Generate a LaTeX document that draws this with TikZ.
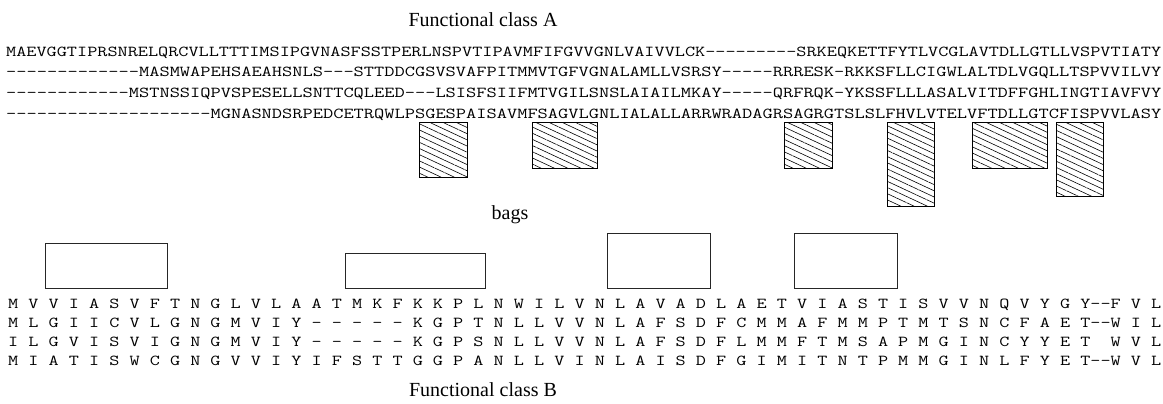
\documentclass[tikz,border=0pt]{standalone}
\usepackage{fontspec}
\setmainfont{Liberation Serif}
\usepackage{graphicx}
\usetikzlibrary{patterns.meta}
\newcommand\rep[1]{\ifnum#1>0 \mbox{-}\expandafter\rep\expandafter{\the\numexpr#1-1\relax}\fi}
\newcommand\seqline[2]{\resizebox{#1}{\height}{\fontsize{15.2}{16}\ttfamily #2}}
\tikzset{
  lab/.style={inner sep=0pt, font=\fontsize{20}{24}\selectfont},
  seq/.style={inner sep=0pt, anchor=base west},
  hatchbox/.style={draw=black, line width=0.9pt, pattern={Lines[angle=-25,distance=5.6pt,line width=0.6pt]}},
  bagbox/.style={draw=black!85, line width=0.8pt},
}
\begin{document}
\begin{tikzpicture}[x=1pt,y=-1pt]
\useasboundingbox (0,0) rectangle (1163,404);
\node[lab] (titleA) at (483,20) {Functional class A};
\node[seq] (a1) at (6,56.5) {\seqline{1155pt}{MAEVGGTIPRSNRELQRCVLLTTTIMSIPGVNASFSSTPERLNSPVTIPAVMFIFGVVGNLVAIVVLCK\rep{9}SRKEQKETTFYTLVCGLAVTDLLGTLLVSPVTIATY}};
\node[seq] (a2) at (6,77) {\seqline{1155pt}{\rep{13}MASMWAPEHSAEAHSNLS\rep{3}STTDDCGSVSVAFPITMMVTGFVGNALAMLLVSRSY\rep{5}RRRESK-RKKSFLLCIGWLALTDLVGQLLTSPVVILVY}};
\node[seq] (a3) at (6,97.5) {\seqline{1155pt}{\rep{12}MSTNSSIQPVSPESELLSNTTCQLEED\rep{3}LSISFSIIFMTVGILSNSLAIAILMKAY\rep{5}QRFRQK-YKSSFLLLASALVITDFFGHLINGTIAVFVY}};
\node[seq] (a4) at (6,118) {\seqline{1155pt}{\rep{20}MGNASNDSRPEDCETRQWLPSGESPAISAVMFSAGVLGNLIALALLARRWRADAGRSAGRGTSLSLFHVLVTELVFTDLLGTCFISPVVLASY}};
% hatched regions
\draw[hatchbox] (419,122) rectangle (467,177);
\draw[hatchbox] (532,122) rectangle (597,168);
\draw[hatchbox] (784,122) rectangle (832,168);
\draw[hatchbox] (887,122) rectangle (934,206);
\draw[hatchbox] (972,122) rectangle (1047,168);
\draw[hatchbox] (1056,122) rectangle (1103,196);
\node[lab] (bags) at (510,215) {bags};
% bag boxes
\draw[bagbox] (45,243) rectangle (167,288);
\draw[bagbox] (345,253) rectangle (485,288);
\draw[bagbox] (607,233) rectangle (710,288);
\draw[bagbox] (794,233) rectangle (897,288);
\node[seq] (b1) at (8,308) {\seqline{1153pt}{M V V I A S V F T N G L V L A A T M K F K K P L N W I L V N L A V A D L A E T V I A S T I S V V N Q V Y G Y\rep{2}F V L}};
\node[seq] (b2) at (8,327) {\seqline{1153pt}{M L G I I C V L G N G M V I Y - - - - - K G P T N L L V V N L A F S D F C M M A F M M P T M T S N C F A E T\rep{2}W I L}};
\node[seq] (b3) at (8,346) {\seqline{1153pt}{I L G V I S V I G N G M V I Y - - - - - K G P S N L L V V N L A F S D F L M M F T M S A P M G I N C Y Y E T~~W V L}};
\node[seq] (b4) at (8,365) {\seqline{1153pt}{M I A T I S W C G N G V V I Y I F S T T G G P A N L L V I N L A I S D F G I M I T N T P M M G I N L F Y E T\rep{2}W V L}};
\node[lab] (titleB) at (483,390) {Functional class B};
\end{tikzpicture}
\end{document}
